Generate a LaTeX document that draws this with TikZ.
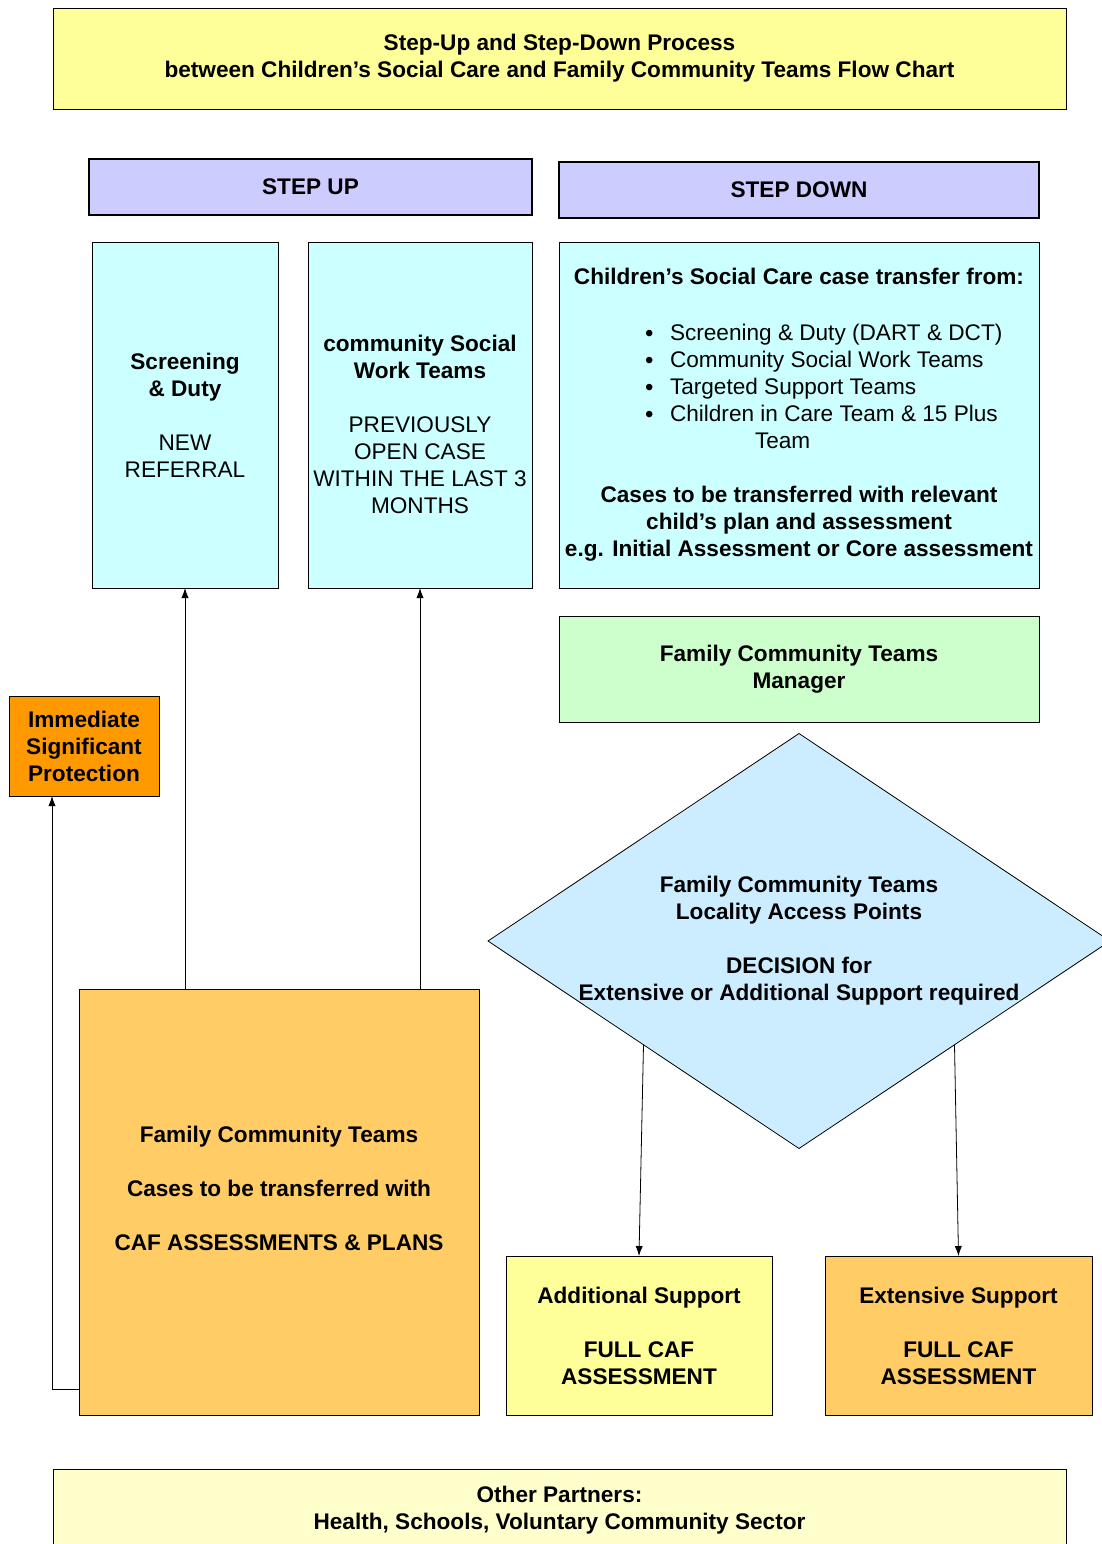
\documentclass[tikz,border=0pt]{standalone}
\usepackage{fontspec}
\setmainfont{Liberation Sans}
\usetikzlibrary{shapes.geometric}
\usetikzlibrary{arrows.meta}

\definecolor{titleyellow}{HTML}{FFFF99}
\definecolor{steplilac}{HTML}{CCCCFF}
\definecolor{teamcyan}{HTML}{CCFFFF}
\definecolor{mgrgreen}{HTML}{CCFFCC}
\definecolor{decblue}{HTML}{CCECFF}
\definecolor{urgentorange}{HTML}{FF9900}
\definecolor{cafgold}{HTML}{FFCC66}
\definecolor{partnercream}{HTML}{FFFFCC}

\tikzset{
  box/.style = {draw, inner sep = 0pt, outer sep = 0pt, align = center, font = \fontsize{11.3}{13.5}\selectfont},
  boldbox/.style = {box, font = \fontsize{11.3}{13.5}\selectfont\bfseries},
  header/.style = {boldbox, fill = steplilac, line width = 1.2pt},
  link/.style = {->, >={Latex[length = 5pt, width = 3.6pt]}, thin}
}

\newcommand{\bul}[1]{\makebox[154pt][l]{\makebox[12.5pt][l]{\raisebox{-0.2pt}{\large\textbullet}}#1}}

\begin{document}
\begin{tikzpicture}[x = 0.5pt, y = -0.5pt]
\useasboundingbox (0, 0) rectangle (1102, 1544);
\clip (0, 0) rectangle (1102, 1544);
% title and column headers
\node[boldbox, fill = titleyellow, minimum width = 506.5pt, minimum height = 50.5pt] (title) at (559.5, 58.5)
  {Step-Up and Step-Down Process\\between Children’s Social Care and Family Community Teams Flow Chart};
\node[header, minimum width = 221.5pt, minimum height = 28pt] (stepup) at (310.5, 187) {STEP UP};
\node[header, minimum width = 240pt, minimum height = 28pt] (stepdown) at (799, 190) {STEP DOWN};
% step up columns
\node[box, fill = teamcyan, minimum width = 93pt, minimum height = 173pt] (scr) at (185, 415)
  {\textbf{Screening}\\\textbf{\& Duty}\\[13.5pt]NEW\\REFERRAL};
\node[box, fill = teamcyan, minimum width = 112pt, minimum height = 173pt] (csw) at (420, 415)
  {\mbox{}\\[4pt]\textbf{community Social}\\\textbf{Work Teams}\\[13.5pt]PREVIOUSLY\\OPEN CASE\\WITHIN THE LAST 3\\MONTHS};
% step down column
\node[box, fill = teamcyan, minimum width = 240pt, minimum height = 173pt] (csc) at (799, 415)
  {\textbf{Children’s Social Care case transfer from:}\\[14.5pt]
   \bul{Screening \& Duty (DART \& DCT)}\\
   \bul{Community Social Work Teams}\\
   \bul{Targeted Support Teams}\\
   \bul{Children in Care Team \& 15 Plus}\\
   \makebox[154pt][l]{\hspace{55pt}Team}\\[13.5pt]
   \textbf{Cases to be transferred with relevant}\\
   \textbf{child’s plan and assessment}\\
   \textbf{e.g. Initial Assessment or Core assessment}};
\node[boldbox, fill = mgrgreen, minimum width = 240pt, minimum height = 53pt] (mgr) at (799, 669)
  {Family Community Teams\\Manager};
\node[boldbox, diamond, fill = decblue, thin, inner sep = -4pt, minimum width = 311pt, minimum height = 207.5pt, aspect = 1.5] (dec) at (799, 941)
  {Family Community Teams\\Locality Access Points\\[13.5pt]DECISION for\\Extensive or Additional Support required};
% outcomes
\node[boldbox, fill = urgentorange, minimum width = 75pt, minimum height = 50pt] (isp) at (84, 746)
  {Immediate\\Significant\\Protection};
\node[boldbox, fill = cafgold, minimum width = 200pt, minimum height = 213pt] (fct) at (279, 1202)
  {Family Community Teams\\[13.5pt]Cases to be transferred with\\[13.5pt]CAF ASSESSMENTS \& PLANS\\\mbox{}};
\node[boldbox, fill = titleyellow, minimum width = 133pt, minimum height = 79.5pt] (add) at (639, 1335.5)
  {Additional Support\\[13.5pt]FULL CAF\\ASSESSMENT};
\node[boldbox, fill = cafgold, minimum width = 133.5pt, minimum height = 79.5pt] (ext) at (958.5, 1335.5)
  {Extensive Support\\[13.5pt]FULL CAF\\ASSESSMENT};
\node[boldbox, fill = partnercream, minimum width = 506.5pt, minimum height = 41.5pt] (other) at (559.5, 1510.5)
  {Other Partners:\\Health, Schools, Voluntary Community Sector};
% connectors
\coordinate (kink) at (52, 1389);
\draw[link] (scr.south |- fct.north) -- (scr.south);
\draw[link] (csw.south |- fct.north) -- (csw.south);
\draw[link] (fct.west |- kink) -- (kink) -- (kink |- isp.south);
\draw[link] (dec.south west) -- (add.north);
\draw[link] (dec.south east) -- (ext.north);
\end{tikzpicture}
\end{document}
